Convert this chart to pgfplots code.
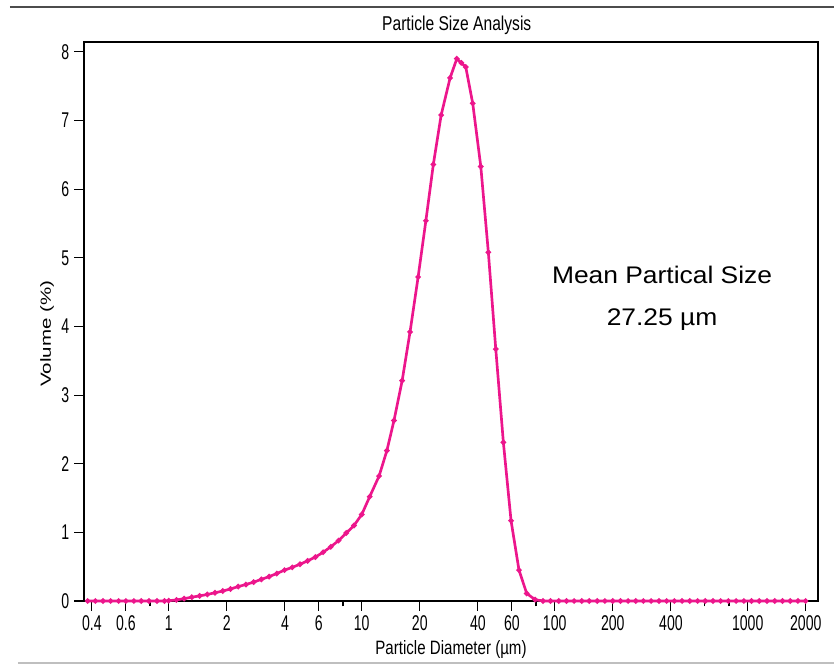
\documentclass[border=0pt]{standalone}
\usepackage{pgfplots}
\pgfplotsset{compat=1.18}
\usepackage{fontspec}
\setmainfont{Liberation Sans}
\newfontfamily\tickfont[FakeStretch=0.66]{Liberation Sans}
\newfontfamily\labfont[FakeStretch=0.78]{Liberation Sans}
\newfontfamily\ylabfont[FakeStretch=1.4]{Liberation Sans}
\newfontfamily\annfont[FakeStretch=1.1]{Liberation Sans}
\definecolor{psdpink}{RGB}{236,22,140}
\begin{document}
\begin{tikzpicture}
\begin{axis}[
  scale only axis,
  width=550.5pt, height=419.25pt,
  xmode=log, log basis x=10,
  xmin=0.364, xmax=2313,
  ymin=0, ymax=8.144,
  axis line style={black, line width=0.9pt},
  tick align=outside,
  xtick pos=bottom, ytick pos=left,
  xtick={0.4,0.6,1,2,4,6,10,20,40,60,100,200,400,1000,2000},
  xticklabels={0.4,0.6,1,2,4,6,10,20,40,60,100,200,400,1000,2000},
  extra x ticks={0.8,8,80,600,800},
  extra x tick labels={},
  extra x tick style={major tick length=4pt},
  minor xtick={},
  ytick={0,1,2,3,4,5,6,7,8},
  yticklabels={0,1,2,3,4,5,6,7,8},
  major tick length=7.5pt,
  tick style={black, line width=0.8pt},
  xticklabel style={font=\tickfont\fontsize{16}{16}\selectfont},
  yticklabel style={font=\tickfont\fontsize{16}{16}\selectfont},
  xlabel={Particle Diameter (µm)},
  ylabel={Volume (\%)},
  x label style={at={([yshift=-36.75pt]axis description cs:0.5,0)}, anchor=center, font=\labfont\fontsize{14.5}{15}\selectfont},
  y label style={at={([xshift=-27.75pt]axis description cs:0,0.478)}, anchor=center, font=\ylabfont\fontsize{11}{12}\selectfont},
  clip=false,
]
\addplot[color=psdpink, line width=2pt, mark=*, mark size=0.9pt, mark options={fill=psdpink, draw=psdpink}] coordinates {
(0.38,0) (0.417,0) (0.457,0) (0.5,0) (0.55,0) (0.6,0) (0.66,0) (0.72,0) (0.79,0) (0.87,0) (0.95,0)
(1.000,0.005) (1.096,0.015) (1.202,0.035) (1.318,0.055) (1.445,0.075) (1.585,0.095)
(1.738,0.12) (1.905,0.145) (2.089,0.175) (2.291,0.21) (2.512,0.24) (2.754,0.275)
(3.020,0.315) (3.311,0.355) (3.631,0.40) (3.981,0.45) (4.365,0.49) (4.786,0.535)
(5.248,0.585) (5.754,0.64) (6.310,0.71) (6.918,0.79) (7.586,0.88) (8.318,0.99)
(9.120,1.10) (10.0,1.26) (11.0,1.52) (12.3,1.82) (13.5,2.19) (14.7,2.63) (16.2,3.21)
(17.8,3.92) (19.6,4.72) (21.5,5.54) (23.5,6.36) (25.8,7.08) (28.7,7.62) (31.1,7.90)
(32.8,7.84) (34.6,7.78) (37.6,7.25) (41.4,6.33) (45.3,5.08) (49.5,3.67) (54.2,2.31)
(59.4,1.17) (65.3,0.45) (71.6,0.11) (79.1,0.02) (87,0) (95,0) (105,0) (115,0) (126,0)
(138,0) (151,0) (166,0) (182,0) (200,0) (219,0) (240,0) (263,0) (288,0) (316,0) (347,0)
(380,0) (417,0) (457,0) (501,0) (550,0) (603,0) (661,0) (724,0) (794,0) (871,0) (955,0)
(1047,0) (1148,0) (1259,0) (1380,0) (1514,0) (1660,0) (1820,0) (1995,0)
};
\node[anchor=center, font=\labfont\fontsize{15}{16}\selectfont] at ([xshift=4.3pt,yshift=12.5pt]rel axis cs:0.5,1) {Particle Size Analysis};
\node[anchor=center, align=center, font=\annfont\fontsize{18}{32}\selectfont] at (axis cs:360,4.41) {Mean Partical Size\\27.25 µm};
\end{axis}
\draw[gray!60!black, line width=1.5pt] (-55.5pt,445.5pt) -- (562.5pt,445.5pt);
\draw[gray!50, line width=1.2pt] (-49.5pt,-46.5pt) -- (562.5pt,-46.5pt);
\pgfresetboundingbox
\path[use as bounding box] (-63pt,-48.75pt) rectangle (562.5pt,450.75pt);
\end{tikzpicture}
\end{document}
